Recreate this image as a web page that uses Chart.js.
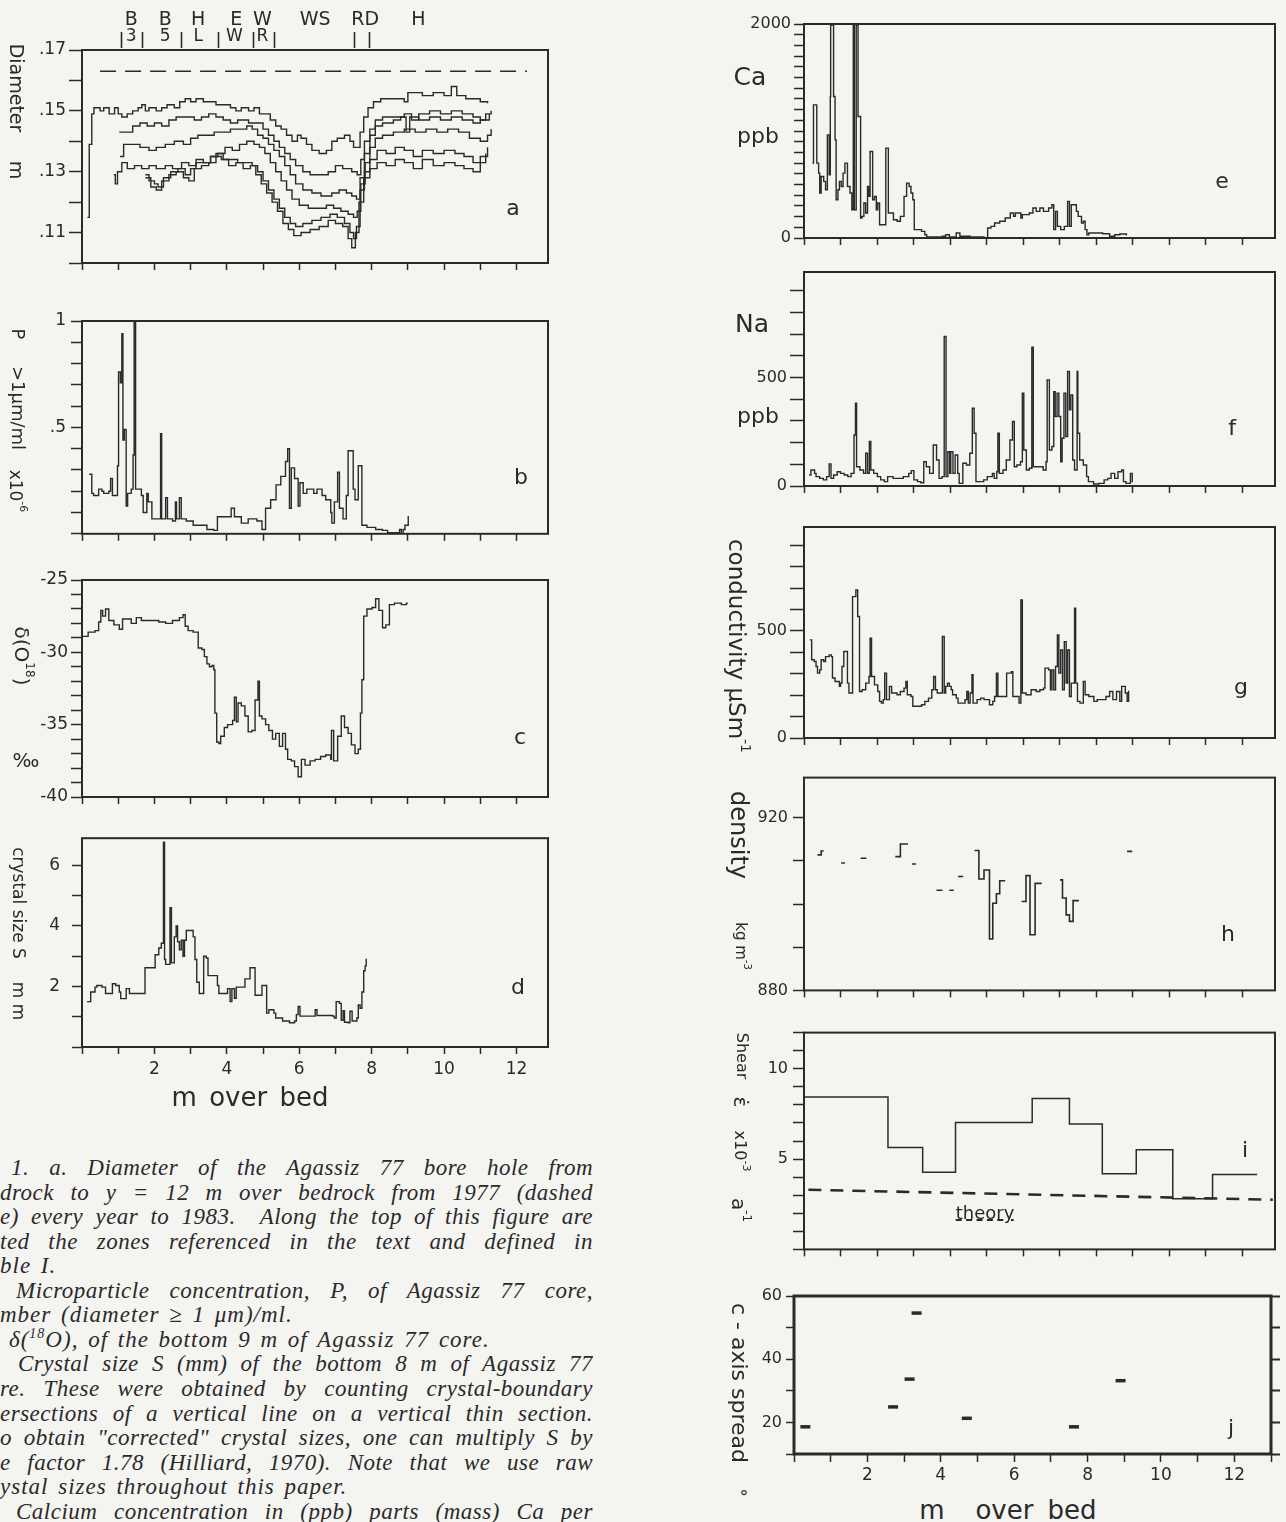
<!DOCTYPE html>
<html>
<head>
<meta charset="utf-8">
<script src="https://cdn.jsdelivr.net/npm/chart.js@4.4.1/dist/chart.umd.min.js"></script>
<style>
  body { margin: 0; background: #f4f4f1; }
  #page { position: relative; width: 1286px; height: 1522px; overflow: hidden; background: #f4f4f1; color: #2a2a2a; font-family: "DejaVu Sans", sans-serif; }
  .box { position: absolute; }
  .lbl { position: absolute; white-space: pre; line-height: 1; transform: translate(-50%, -50%); }
  .vert { writing-mode: vertical-rl; }
  .cap { position: absolute; font-family: "Liberation Serif", serif; font-style: italic; font-size: 23px; line-height: 24px; height: 25px; white-space: nowrap; letter-spacing: 1px; word-spacing: 3px; }
  .cap.just { white-space: normal; overflow: hidden; text-align: justify; text-align-last: justify; letter-spacing: 0.5px; word-spacing: 0; }
</style>
</head>
<body>
<div id="page"></div>
<script>
// ---- depth axis (m over bed) ----
const depthLabels = [2, 4, 6, 8, 10, 12];

// ---- a: bore hole diameter (m), one trace per year ----
const diamTicks = [0.11, 0.13, 0.15, 0.17];
const diam1977 = [[0.5, 0.163], [12.29, 0.163]];
const diamY1 = [[0.15,0.115],[0.20,0.139],[0.27,0.149],[0.33,0.151],[0.50,0.150],[0.60,0.151],[0.75,0.149],[0.90,0.151],[1.00,0.149],[1.10,0.148],[1.25,0.149],[1.40,0.150],[1.55,0.151],[1.65,0.152],[1.75,0.150],[1.85,0.151],[2.05,0.150],[2.20,0.151],[2.35,0.152],[2.55,0.151],[2.70,0.153],[2.85,0.154],[3.00,0.153],[3.15,0.154],[3.35,0.153],[3.70,0.152],[3.90,0.152],[4.10,0.151],[4.25,0.150],[4.40,0.151],[4.60,0.150],[4.75,0.151],[4.90,0.149],[5.20,0.147],[5.35,0.145],[5.50,0.144],[5.65,0.142],[5.80,0.140],[5.95,0.142],[6.05,0.141],[6.20,0.139],[6.35,0.137],[6.55,0.136],[6.75,0.137],[6.90,0.140],[7.05,0.141],[7.25,0.142],[7.40,0.140],[7.50,0.138],[7.62,0.138],[7.68,0.143],[7.78,0.148],[7.90,0.151],[8.05,0.153],[8.25,0.154],[8.50,0.154],[8.90,0.153],[9.00,0.156],[9.40,0.155],[9.70,0.156],[10.00,0.155],[10.20,0.158],[10.35,0.155],[10.60,0.154],[11.00,0.153],[11.20,0.1525]];
const diamY2 = [[1.03,0.143],[1.30,0.143],[1.40,0.145],[1.60,0.146],[1.80,0.145],[2.00,0.146],[2.20,0.145],[2.40,0.147],[2.60,0.148],[2.90,0.148],[3.10,0.147],[3.30,0.148],[3.50,0.149],[3.70,0.148],[3.90,0.147],[4.10,0.146],[4.30,0.147],[4.60,0.146],[4.80,0.146],[5.00,0.144],[5.15,0.142],[5.30,0.140],[5.45,0.138],[5.60,0.136],[5.75,0.134],[5.90,0.132],[6.10,0.130],[6.30,0.129],[6.60,0.129],[6.80,0.130],[7.00,0.132],[7.20,0.131],[7.45,0.130],[7.60,0.129],[7.70,0.134],[7.80,0.140],[7.95,0.144],[8.10,0.147],[8.30,0.148],[8.60,0.148],[8.90,0.149],[9.10,0.147],[9.30,0.149],[9.60,0.150],[9.90,0.149],[10.20,0.150],[10.50,0.149],[10.80,0.148],[11.00,0.147],[11.15,0.149],[11.30,0.150]];
const diamY3 = [[1.05,0.135],[1.15,0.139],[1.40,0.139],[1.60,0.138],[1.85,0.137],[2.05,0.138],[2.30,0.139],[2.55,0.140],[2.80,0.139],[3.00,0.141],[3.20,0.142],[3.45,0.142],[3.65,0.143],[3.90,0.143],[4.10,0.144],[4.35,0.144],[4.55,0.145],[4.70,0.144],[4.85,0.142],[5.00,0.141],[5.15,0.139],[5.30,0.137],[5.45,0.135],[5.60,0.132],[5.75,0.129],[5.90,0.126],[6.10,0.124],[6.35,0.123],[6.60,0.122],[6.90,0.123],[7.10,0.124],[7.30,0.123],[7.45,0.122],[7.58,0.121],[7.68,0.128],[7.80,0.136],[7.95,0.142],[8.10,0.145],[8.30,0.146],[8.60,0.147],[8.80,0.148],[8.95,0.143],[9.05,0.148],[9.30,0.147],[9.60,0.148],[9.90,0.147],[10.20,0.148],[10.50,0.147],[10.80,0.146],[11.00,0.147],[11.25,0.149]];
const diamY4 = [[0.88,0.129],[0.92,0.126],[0.98,0.130],[1.10,0.133],[1.25,0.131],[1.45,0.132],[1.65,0.131],[1.85,0.132],[2.05,0.131],[2.30,0.132],[2.50,0.131],[2.75,0.133],[2.95,0.132],[3.15,0.134],[3.35,0.133],[3.55,0.135],[3.75,0.136],[3.95,0.138],[4.15,0.137],[4.35,0.139],[4.55,0.140],[4.75,0.139],[4.90,0.138],[5.05,0.136],[5.20,0.133],[5.35,0.130],[5.50,0.127],[5.65,0.124],[5.80,0.121],[6.00,0.119],[6.25,0.118],[6.50,0.118],[6.75,0.119],[6.95,0.118],[7.15,0.117],[7.35,0.116],[7.50,0.115],[7.60,0.117],[7.70,0.126],[7.82,0.133],[7.95,0.138],[8.10,0.141],[8.30,0.142],[8.60,0.143],[8.90,0.144],[9.20,0.143],[9.50,0.144],[9.80,0.143],[10.10,0.144],[10.40,0.143],[10.70,0.141],[11.00,0.140],[11.20,0.142],[11.30,0.144]];
const diamY5 = [[1.75,0.129],[1.85,0.127],[2.00,0.126],[2.10,0.125],[2.25,0.128],[2.45,0.130],[2.65,0.131],[2.85,0.129],[3.00,0.131],[3.15,0.133],[3.35,0.133],[3.55,0.135],[3.70,0.136],[3.90,0.134],[4.10,0.134],[4.30,0.133],[4.50,0.133],[4.70,0.132],[4.85,0.130],[5.00,0.127],[5.15,0.124],[5.30,0.121],[5.45,0.118],[5.60,0.115],[5.75,0.113],[5.90,0.112],[6.10,0.113],[6.35,0.114],[6.60,0.115],[6.85,0.116],[7.05,0.115],[7.25,0.113],[7.40,0.110],[7.50,0.108],[7.58,0.112],[7.68,0.124],[7.80,0.130],[7.95,0.134],[8.15,0.137],[8.40,0.136],[8.65,0.138],[8.90,0.137],[9.15,0.135],[9.40,0.137],[9.70,0.136],[10.00,0.137],[10.30,0.136],[10.55,0.135],[10.80,0.133],[11.00,0.135],[11.20,0.138]];
const diamY6 = [[1.75,0.128],[1.90,0.125],[2.05,0.124],[2.20,0.127],[2.40,0.129],[2.60,0.130],[2.80,0.128],[2.95,0.127],[3.10,0.131],[3.30,0.132],[3.50,0.133],[3.70,0.135],[3.85,0.134],[4.05,0.132],[4.25,0.133],[4.45,0.131],[4.65,0.132],[4.80,0.129],[4.95,0.126],[5.10,0.123],[5.25,0.120],[5.40,0.117],[5.55,0.113],[5.70,0.111],[5.85,0.109],[6.05,0.110],[6.30,0.111],[6.55,0.112],[6.80,0.114],[7.00,0.113],[7.20,0.112],[7.35,0.108],[7.45,0.105],[7.55,0.110],[7.65,0.120],[7.78,0.128],[7.95,0.131],[8.15,0.133],[8.40,0.132],[8.65,0.134],[8.90,0.133],[9.15,0.131],[9.40,0.134],[9.70,0.132],[10.00,0.133],[10.30,0.132],[10.55,0.131],[10.80,0.130],[11.00,0.133],[11.15,0.136]];

// zones marked along the top of panel a
const zoneNames = ['B', 'B', 'H', 'E', 'W', 'WS', 'RD', 'H'];
const zoneNameAt = [1.36, 2.30, 3.21, 4.26, 4.98, 6.44, 7.82, 9.29];
const zoneCodes = ['3', '5', 'L', 'W', 'R'];
const zoneCodeAt = [1.36, 2.30, 3.21, 4.21, 4.98];
const zoneBounds = [1.07, 1.66, 2.74, 3.76, 4.71, 5.30, 7.51, 7.92];

// ---- b: microparticles P (x10^-6 per ml) ----
const pTicks = [0.5, 1];
const particles = [[0.20,0.28],[0.27,0.19],[0.32,0.18],[0.46,0.21],[0.55,0.20],[0.60,0.19],[0.74,0.20],[0.79,0.26],[0.84,0.18],[0.98,0.32],[1.01,0.76],[1.06,0.71],[1.10,0.94],[1.13,0.44],[1.17,0.49],[1.22,0.13],[1.26,0.19],[1.36,0.21],[1.41,0.37],[1.44,1.03],[1.48,0.21],[1.55,0.21],[1.64,0.18],[1.69,0.10],[1.79,0.19],[1.83,0.15],[1.93,0.07],[2.12,0.07],[2.17,0.47],[2.20,0.07],[2.31,0.17],[2.36,0.07],[2.50,0.06],[2.58,0.15],[2.61,0.07],[2.69,0.17],[2.74,0.07],[2.88,0.06],[3.07,0.04],[3.45,0.02],[3.64,0.016],[3.74,0.08],[4.02,0.08],[4.12,0.12],[4.21,0.08],[4.40,0.05],[4.59,0.07],[4.83,0.06],[4.97,0.02],[5.07,0.12],[5.21,0.16],[5.36,0.23],[5.49,0.27],[5.62,0.34],[5.68,0.40],[5.73,0.12],[5.78,0.31],[5.87,0.26],[5.97,0.13],[6.02,0.24],[6.11,0.19],[6.21,0.21],[6.40,0.19],[6.49,0.21],[6.63,0.18],[6.73,0.16],[6.87,0.10],[6.90,0.05],[6.97,0.15],[7.06,0.29],[7.11,0.12],[7.21,0.07],[7.30,0.18],[7.35,0.39],[7.49,0.21],[7.54,0.16],[7.63,0.32],[7.73,0.04],[7.87,0.03],[8.11,0.02],[8.30,0.016],[8.44,0.005],[8.68,0.005],[8.77,0.02],[8.82,0.0],[8.87,0.02],[8.92,0.04],[9.01,0.08],[9.03,0.08]];

// ---- c: delta O-18 (per mil) ----
const d18Ticks = [-40, -35, -30, -25];
const delta18 = [[0.00,-28.9],[0.17,-28.6],[0.36,-28.5],[0.46,-27.9],[0.52,-27.1],[0.57,-27.5],[0.65,-27.0],[0.74,-27.8],[0.88,-28.1],[1.03,-28.4],[1.12,-27.7],[1.36,-28.0],[1.50,-27.6],[1.64,-27.8],[1.83,-27.8],[2.12,-27.9],[2.31,-28.0],[2.50,-27.8],[2.69,-27.6],[2.79,-27.4],[2.85,-28.2],[2.93,-28.5],[3.07,-28.6],[3.21,-29.7],[3.31,-29.8],[3.38,-30.3],[3.45,-30.8],[3.52,-31.0],[3.59,-30.9],[3.64,-31.2],[3.67,-34.2],[3.72,-36.2],[3.78,-36.3],[3.83,-35.8],[3.93,-35.2],[4.02,-35.0],[4.16,-34.7],[4.21,-33.1],[4.26,-34.8],[4.31,-33.5],[4.40,-33.7],[4.50,-34.4],[4.59,-35.5],[4.69,-35.4],[4.78,-33.3],[4.86,-32.0],[4.90,-34.4],[4.97,-34.6],[5.07,-35.0],[5.16,-35.4],[5.26,-36.0],[5.35,-35.6],[5.45,-36.5],[5.54,-35.6],[5.62,-36.7],[5.68,-37.4],[5.78,-37.5],[5.87,-37.9],[5.97,-38.6],[6.06,-37.4],[6.16,-37.8],[6.30,-37.5],[6.44,-37.4],[6.59,-37.2],[6.73,-37.1],[6.87,-37.4],[6.89,-35.4],[6.95,-37.5],[7.06,-35.8],[7.16,-34.4],[7.25,-35.2],[7.35,-35.6],[7.44,-36.4],[7.54,-37.0],[7.63,-36.7],[7.69,-34.2],[7.73,-31.9],[7.78,-27.5],[7.87,-27.0],[8.01,-26.9],[8.11,-26.3],[8.20,-27.1],[8.30,-28.3],[8.39,-28.1],[8.49,-26.7],[8.63,-26.6],[8.82,-26.7],[8.96,-26.6],[9.00,-26.6]];

// ---- d: crystal size S (mm) ----
const sizeTicks = [2, 4, 6];
const crystalSize = [[0.14,1.5],[0.22,1.5],[0.24,1.82],[0.36,1.98],[0.41,2.03],[0.55,1.98],[0.65,1.77],[0.79,1.77],[0.84,2.09],[0.93,2.03],[1.03,1.82],[1.07,1.6],[1.22,1.93],[1.31,1.77],[1.55,1.77],[1.74,2.62],[1.93,2.62],[2.02,3.05],[2.12,3.27],[2.19,3.43],[2.25,6.77],[2.28,2.89],[2.31,2.73],[2.40,2.73],[2.43,4.6],[2.47,2.78],[2.55,3.64],[2.60,4.0],[2.64,3.48],[2.69,3.21],[2.74,3.53],[2.79,3.0],[2.83,3.53],[2.88,3.85],[3.02,3.85],[3.07,3.64],[3.12,2.89],[3.17,2.14],[3.24,1.77],[3.31,1.77],[3.36,3.0],[3.43,2.94],[3.48,2.36],[3.74,2.03],[3.78,1.77],[3.93,1.77],[4.02,1.93],[4.09,1.5],[4.14,1.93],[4.21,1.61],[4.26,1.98],[4.45,1.98],[4.50,2.25],[4.64,2.62],[4.76,2.62],[4.78,1.71],[4.95,1.71],[4.97,2.03],[5.05,2.03],[5.10,1.12],[5.16,1.23],[5.30,1.12],[5.35,0.96],[5.54,0.86],[5.73,0.80],[5.87,0.86],[5.92,1.07],[5.97,1.34],[6.02,1.02],[6.40,1.02],[6.44,1.23],[6.49,1.04],[6.92,1.02],[6.97,0.96],[7.02,1.5],[7.11,1.44],[7.16,0.88],[7.21,1.2],[7.25,0.82],[7.35,0.80],[7.40,1.18],[7.46,0.86],[7.59,0.96],[7.63,1.39],[7.68,1.28],[7.73,1.82],[7.78,2.52],[7.82,2.68],[7.85,2.89],[7.87,2.89]];

// ---- e: calcium (ppb) ----
const caTicks = [0, 2000];
const calcium = [[0.23,700],[0.26,1244],[0.33,1244],[0.35,700],[0.40,606],[0.43,420],[0.47,575],[0.54,529],[0.59,451],[0.64,964],[0.69,591],[0.72,1322],[0.73,1990],[0.78,1990],[0.81,1322],[0.85,917],[0.88,358],[0.93,451],[0.97,529],[1.02,482],[1.07,606],[1.12,700],[1.16,700],[1.19,482],[1.26,420],[1.31,264],[1.35,1990],[1.38,264],[1.43,1990],[1.48,1135],[1.52,1135],[1.55,187],[1.59,202],[1.64,327],[1.69,233],[1.74,482],[1.78,389],[1.81,809],[1.86,809],[1.88,358],[1.93,389],[1.98,264],[2.02,327],[2.07,124],[2.21,124],[2.24,840],[2.28,840],[2.31,233],[2.40,233],[2.45,171],[2.55,156],[2.64,202],[2.74,389],[2.81,513],[2.88,482],[2.93,420],[2.98,358],[3.02,78],[3.12,78],[3.22,62],[3.31,31],[3.36,9],[3.60,9],[3.79,16],[3.88,31],[3.98,9],[4.17,47],[4.27,16],[4.55,9],[4.74,9],[4.93,0],[5.03,93],[5.12,109],[5.22,140],[5.36,156],[5.51,187],[5.65,233],[5.74,202],[5.79,233],[5.89,233],[5.94,187],[5.98,218],[6.17,233],[6.27,280],[6.36,249],[6.46,280],[6.56,249],[6.70,280],[6.79,311],[6.84,78],[6.89,249],[6.94,109],[7.03,78],[7.13,109],[7.22,342],[7.27,109],[7.32,311],[7.41,311],[7.46,249],[7.51,202],[7.60,140],[7.65,156],[7.70,78],[7.75,31],[7.80,47],[7.99,47],[8.18,40],[8.37,16],[8.51,31],[8.65,37],[8.83,31],[8.85,31]];

// ---- f: sodium (ppb) ----
const naTicks = [0, 500];
const sodium = [[0.14,51],[0.19,74],[0.29,58],[0.33,43],[0.43,35],[0.53,28],[0.62,43],[0.69,102],[0.74,35],[0.81,51],[0.91,66],[1.00,58],[1.10,51],[1.20,43],[1.29,58],[1.37,235],[1.41,382],[1.44,89],[1.53,74],[1.63,58],[1.69,151],[1.74,58],[1.79,205],[1.83,74],[1.91,58],[2.01,43],[2.10,28],[2.20,20],[2.29,43],[2.44,35],[2.58,35],[2.72,43],[2.87,58],[2.94,71],[3.01,28],[3.11,20],[3.20,15],[3.28,112],[3.35,89],[3.44,58],[3.54,189],[3.63,120],[3.70,35],[3.78,43],[3.84,689],[3.89,43],[3.94,158],[3.99,58],[4.02,158],[4.08,58],[4.14,143],[4.21,58],[4.25,12],[4.35,105],[4.45,97],[4.54,151],[4.61,358],[4.66,243],[4.71,20],[4.83,20],[4.92,28],[5.02,43],[5.16,58],[5.21,35],[5.28,66],[5.31,243],[5.35,58],[5.45,74],[5.54,120],[5.64,212],[5.71,297],[5.76,89],[5.83,97],[5.93,112],[5.98,428],[6.02,166],[6.09,74],[6.17,82],[6.24,640],[6.28,89],[6.45,89],[6.55,74],[6.63,112],[6.66,489],[6.72,166],[6.79,182],[6.84,435],[6.88,320],[6.93,428],[6.98,320],[7.03,112],[7.07,220],[7.12,428],[7.17,228],[7.22,528],[7.27,351],[7.31,420],[7.36,120],[7.41,74],[7.48,528],[7.50,243],[7.55,120],[7.65,97],[7.74,43],[7.79,20],[7.93,9],[8.08,12],[8.22,28],[8.32,35],[8.41,58],[8.51,35],[8.60,66],[8.70,74],[8.75,20],[8.82,12],[8.94,58],[8.99,20],[9.01,20]];

// ---- g: conductivity (uS/m) ----
const condTicks = [0, 500];
const conductivity = [[0.16,458],[0.21,365],[0.28,357],[0.33,334],[0.37,303],[0.43,318],[0.47,365],[0.54,357],[0.59,380],[0.69,388],[0.75,380],[0.78,280],[0.85,264],[0.93,264],[0.97,241],[1.00,256],[1.04,334],[1.09,404],[1.16,404],[1.19,256],[1.23,210],[1.29,210],[1.33,660],[1.38,660],[1.42,691],[1.47,567],[1.52,217],[1.59,225],[1.69,256],[1.78,287],[1.81,466],[1.85,287],[1.93,248],[2.02,217],[2.07,171],[2.12,163],[2.17,179],[2.21,303],[2.26,179],[2.34,241],[2.40,210],[2.55,202],[2.64,217],[2.74,233],[2.79,264],[2.83,202],[2.93,194],[2.98,148],[3.12,148],[3.22,155],[3.31,171],[3.41,186],[3.50,225],[3.55,287],[3.60,225],[3.65,210],[3.79,474],[3.84,210],[3.88,241],[3.93,256],[3.98,241],[4.03,225],[4.07,202],[4.17,186],[4.22,163],[4.36,163],[4.41,179],[4.46,217],[4.50,163],[4.55,210],[4.60,295],[4.63,163],[4.74,179],[4.84,186],[4.93,179],[5.08,155],[5.17,171],[5.22,194],[5.27,303],[5.31,194],[5.51,194],[5.55,303],[5.68,310],[5.72,194],[5.84,194],[5.89,163],[5.94,644],[5.98,210],[6.08,202],[6.22,225],[6.36,217],[6.46,225],[6.56,233],[6.60,326],[6.70,318],[6.75,225],[6.79,318],[6.84,225],[6.89,334],[6.94,481],[6.98,303],[7.03,411],[7.08,225],[7.13,450],[7.18,256],[7.22,411],[7.27,194],[7.32,256],[7.41,606],[7.44,256],[7.49,171],[7.56,163],[7.65,264],[7.70,202],[7.80,194],[7.94,171],[8.03,179],[8.18,179],[8.27,194],[8.37,217],[8.46,179],[8.56,217],[8.65,171],[8.70,241],[8.80,210],[8.85,171],[8.89,217],[8.91,217]];

// ---- h: density (kg m^-3), null marks a gap between sampled sections ----
const densTicks = [880, 920];
const density = [[0.37,911.4],[0.47,912.3],[0.54,912.3],[0.7,null],[1.02,909.5],[1.12,909.5],[1.3,null],[1.55,910.6],[1.71,910.6],[2.0,null],[2.50,911.0],[2.64,913.9],[2.85,913.9],[2.9,null],[2.96,909.3],[3.07,909.3],[3.3,null],[3.63,903.2],[3.79,903.2],[3.9,null],[3.98,903.2],[4.10,903.2],[4.15,null],[4.22,906.4],[4.36,906.4],[4.5,null],[4.67,912.4],[4.79,905.8],[4.93,907.9],[5.08,891.9],[5.17,900.2],[5.27,902.4],[5.36,905.4],[5.51,905.4],[5.7,null],[5.96,900.6],[6.08,906.6],[6.19,892.9],[6.33,904.8],[6.51,904.8],[6.8,null],[7.01,905.6],[7.08,901.4],[7.18,897.5],[7.27,896.0],[7.37,900.8],[7.53,900.8],[8.0,null],[8.85,912.2],[8.99,912.2]];

// ---- i: shear strain rate (x10^-3 a^-1) ----
const shearTicks = [5, 10];
const shearRate = [[0,8.44],[2.30,5.64],[3.25,4.27],[4.15,7.03],[6.25,8.35],[7.27,6.94],[8.17,4.19],[9.10,5.51],[10.10,2.8],[11.19,4.14],[12.41,4.14]];
const shearTheory = [[0.12,3.30],[12.84,2.75]];

// ---- j: c-axis spread (degrees) ----
const spreadTicks = [20, 40, 60];
const caxisSpread = [[0.31,18.6],[2.70,24.9],[3.15,33.7],[3.34,54.6],[4.71,21.3],[7.63,18.6],[8.90,33.2]];

const ink = '#2a2a2a';
Chart.defaults.font.family = '"DejaVu Sans", sans-serif';
Chart.defaults.color = ink;

const pts = arr => arr.map(([x, y]) => ({ x, y }));
const dot = v => String(v).replace(/^0\./, '.');
const pick = (list, fmt) => v => {
  const hit = list.find(t => Math.abs(t - v) < 1e-6);
  return hit === undefined ? '' : fmt(hit);
};
// each reading holds until the next depth, so step horizontally first
const trace = (arr, extra) => Object.assign({
  data: pts(arr), borderColor: ink, borderWidth: 1.4, pointRadius: 0,
  stepped: 'before', fill: false, spanGaps: false
}, extra || {});

// box around the plot area
const framePlugin = {
  id: 'frame',
  afterDraw(chart, args, opts) {
    const a = chart.chartArea, c = chart.ctx;
    c.save();
    c.strokeStyle = ink;
    c.lineWidth = opts.width || 2;
    c.strokeRect(a.left, a.top, a.right - a.left, a.bottom - a.top);
    c.restore();
  }
};
Chart.register(framePlugin);

// zone letters and boundary bars above panel a
const zonePlugin = {
  id: 'zones',
  afterDraw(chart) {
    const c = chart.ctx, xs = chart.scales.x, top = chart.chartArea.top;
    c.save();
    c.fillStyle = ink; c.strokeStyle = ink; c.lineWidth = 1.6;
    c.font = '19px "DejaVu Sans"'; c.textAlign = 'center'; c.textBaseline = 'middle';
    zoneNames.forEach((t, i) => c.fillText(t, xs.getPixelForValue(zoneNameAt[i]), top - 30));
    c.font = '17px "DejaVu Sans"';
    zoneCodes.forEach((t, i) => c.fillText(t, xs.getPixelForValue(zoneCodeAt[i]), top - 13));
    zoneBounds.forEach(v => {
      const px = Math.round(xs.getPixelForValue(v)) + 0.5;
      c.beginPath(); c.moveTo(px, top - 18); c.lineTo(px, top - 2); c.stroke();
    });
    c.restore();
  }
};

const page = document.getElementById('page');

function makePanel(p) {
  const div = document.createElement('div');
  div.className = 'box';
  div.style.left = (p.left - p.padL) + 'px';
  div.style.top = (p.top - p.padT) + 'px';
  div.style.width = (p.width + p.padL + p.padR) + 'px';
  div.style.height = (p.height + p.padT + p.padB) + 'px';
  const cv = document.createElement('canvas');
  div.appendChild(cv);
  page.appendChild(div);

  const scales = {
    x: {
      type: 'linear', min: 0, max: p.xMax,
      afterFit(s) { s.height = p.padB; },
      ticks: {
        stepSize: 1, autoSkip: false, includeBounds: false, maxRotation: 0,
        padding: p.xPad || 4, font: { size: 17 }, color: ink,
        callback: p.xLabels ? pick(p.xLabels, String) : () => ''
      },
      grid: { drawOnChartArea: false, tickLength: p.xTick || 7, tickWidth: 1.5, tickColor: ink },
      border: { display: false }
    },
    y: {
      type: 'linear', position: 'left', min: p.yMin, max: p.yMax,
      afterFit(s) { s.width = p.padL; },
      ticks: {
        stepSize: p.yStep, autoSkip: false, includeBounds: false,
        padding: p.yPad || 3, font: { size: p.yFont || 17 }, color: ink,
        callback: pick(p.yLabels, p.yFmt || String)
      },
      grid: { drawOnChartArea: false, tickLength: p.yTick || 12, tickWidth: 1.5, tickColor: ink },
      border: { display: false }
    }
  };
  if (p.rightTicks) {
    scales.y2 = {
      type: 'linear', position: 'right', min: p.yMin, max: p.yMax,
      afterFit(s) { s.width = p.padR; },
      ticks: { stepSize: p.yStep, display: false },
      grid: { drawOnChartArea: false, tickLength: 9, tickWidth: 2, tickColor: ink },
      border: { display: false }
    };
  }

  return new Chart(cv, {
    type: p.type || 'line',
    data: { datasets: p.datasets },
    options: {
      responsive: true, maintainAspectRatio: false, animation: false,
      layout: { padding: { top: p.padT, right: p.rightTicks ? 0 : p.padR, left: 0, bottom: 0 } },
      plugins: { legend: { display: false }, tooltip: { enabled: false }, frame: { width: p.frameWidth || 2 } },
      scales
    },
    plugins: p.plugins || []
  });
}

// left column
const leftCol = { left: 82, width: 466, padL: 82, padR: 14, xMax: 12.87 };

makePanel(Object.assign({}, leftCol, {
  top: 50, height: 213, padT: 46, padB: 14,
  yMin: 0.10, yMax: 0.17, yStep: 0.01, yLabels: diamTicks, yFmt: dot, yTick: 13,
  plugins: [zonePlugin],
  datasets: [
    trace(diam1977, { stepped: false, borderDash: [16, 9], borderWidth: 1.5 }),
    trace(diamY1), trace(diamY2), trace(diamY3), trace(diamY4), trace(diamY5), trace(diamY6)
  ]
}));

makePanel(Object.assign({}, leftCol, {
  top: 321, height: 214, padT: 16, padB: 14,
  yMin: 0, yMax: 1, yStep: 0.1, yLabels: pTicks, yFmt: dot, yTick: 11, yPad: 5,
  datasets: [trace(particles)]
}));

makePanel(Object.assign({}, leftCol, {
  top: 580, height: 217, padT: 16, padB: 14,
  yMin: -40, yMax: -25, yStep: 1, yLabels: d18Ticks, yTick: 11,
  datasets: [trace(delta18)]
}));

makePanel(Object.assign({}, leftCol, {
  top: 832, height: 215, padT: 16, padB: 36,
  yMin: 0, yMax: 6.9, yStep: 1, yLabels: sizeTicks, yTick: 10, yPad: 12,
  xLabels: depthLabels, xPad: 5,
  datasets: [trace(crystalSize)]
}));

// right column
const rightCol = { left: 804, width: 471, padL: 74, padR: 10, xMax: 12.9, yFont: 16, yTick: 11 };

makePanel(Object.assign({}, rightCol, {
  top: 24, height: 214, padT: 14, padB: 14,
  yMin: 0, yMax: 2000, yStep: 100, yLabels: caTicks, yTick: 10,
  datasets: [trace(calcium)]
}));

makePanel(Object.assign({}, rightCol, {
  top: 272, height: 214, padT: 14, padB: 14,
  yMin: 0, yMax: 986, yStep: 100, yLabels: naTicks, yTick: 14,
  datasets: [trace(sodium)]
}));

makePanel(Object.assign({}, rightCol, {
  top: 527, height: 211, padT: 14, padB: 14,
  yMin: 0, yMax: 985, yStep: 100, yLabels: condTicks, yTick: 14,
  datasets: [trace(conductivity)]
}));

makePanel(Object.assign({}, rightCol, {
  top: 777, height: 214, padT: 14, padB: 14,
  yMin: 880, yMax: 929.3, yStep: 10, yLabels: densTicks, yPad: 5,
  datasets: [trace(density, { borderWidth: 1.6 })]
}));

makePanel(Object.assign({}, rightCol, {
  top: 1032, height: 218, padT: 14, padB: 14,
  yMin: 0, yMax: 12, yStep: 1, yLabels: shearTicks, yPad: 5,
  datasets: [
    trace(shearRate, { borderWidth: 1.5 }),
    trace(shearTheory, { stepped: false, borderDash: [13, 9], borderWidth: 2.6 })
  ]
}));

makePanel({
  left: 794, top: 1296, width: 477, height: 158, padL: 64, padT: 14, padR: 12, padB: 36,
  xMax: 13.0, yMin: 10, yMax: 60, yStep: 10, yLabels: spreadTicks, yFont: 16, yTick: 8, yPad: 4,
  xLabels: depthLabels, xTick: 8, xPad: 3, rightTicks: true, frameWidth: 3,
  type: 'scatter',
  datasets: [{
    data: pts(caxisSpread), showLine: false, pointStyle: 'line',
    pointRadius: 5, pointBorderWidth: 3.5, borderColor: ink, backgroundColor: ink
  }]
});

// text: axis titles, panel letters, caption
function addText(txt, x, y, size, extra) {
  const d = document.createElement('div');
  d.className = 'lbl' + (extra && extra.vert ? ' vert' : '');
  d.style.left = x + 'px';
  d.style.top = y + 'px';
  d.style.fontSize = size + 'px';
  if (extra && extra.css) d.style.cssText += extra.css;
  d.innerHTML = txt;
  page.appendChild(d);
}
const V = { vert: true };

addText('Diameter', 16, 88, 19, V);
addText('m', 16, 170, 19, V);
addText('P', 18, 334, 18, V);
addText('&gt;1μm/ml', 18, 408, 18, V);
addText('x10<sup style="font-size:11px">-6</sup>', 18, 491, 17, V);
addText('δ(O<sup style="font-size:12px">18</sup>)', 24, 656, 20, V);
addText('‰', 26, 760, 20, V);
addText('crystal size S', 18, 903, 17, V);
addText('m m', 18, 1001, 17, V);
addText('m over bed', 250, 1097, 26, { css: 'word-spacing:4px;' });

addText('Ca', 750, 76, 25);
addText('ppb', 758, 136, 22);
addText('Na', 752, 323, 25);
addText('ppb', 758, 416, 22);
addText('conductivity μSm<sup style="font-size:14px">-1</sup>', 739, 646, 23, V);
addText('density', 739, 835, 24, V);
addText('kg m<sup style="font-size:10px">-3</sup>', 742, 946, 15, V);
addText('Shear', 742, 1056, 16, V);
addText('ε̇', 741, 1102, 20, V);
addText('x10<sup style="font-size:11px">-3</sup>', 742, 1151, 16, V);
addText('a<sup style="font-size:12px">-1</sup>', 741, 1210, 20, V);
addText('c - axis spread', 739, 1383, 22, V);
addText('°', 744, 1497, 18);
addText('m', 932, 1510, 26);
addText('over bed', 1036, 1510, 26, { css: 'word-spacing:6px;' });
addText('theory', 985, 1213, 18, { css: 'text-decoration:underline dashed;' });

[['a', 513, 208], ['b', 521, 477], ['c', 520, 737], ['d', 518, 987],
 ['e', 1222, 181], ['f', 1232, 428], ['g', 1241, 687], ['h', 1228, 934],
 ['i', 1245, 1150], ['j', 1231, 1428]].forEach(([t, x, y]) => addText(t, x, y, 22));

const caption = [
  [11, true, '1. a. Diameter of the Agassiz 77 bore hole from'],
  [0, true, 'drock to y = 12 m over bedrock from 1977 (dashed'],
  [0, true, 'e) every year to 1983.&nbsp; Along the top of this figure are'],
  [0, true, 'ted the zones referenced in the text and defined in'],
  [0, false, 'ble I.'],
  [16, true, 'Microparticle concentration, P, of Agassiz 77 core,'],
  [0, false, 'mber (diameter ≥ 1 μm)/ml.'],
  [9, false, 'δ(<sup style="font-size:14px;line-height:0">18</sup>O), of the bottom 9 m of Agassiz 77 core.'],
  [18, true, 'Crystal size S (mm) of the bottom 8 m of Agassiz 77'],
  [0, true, 're. These were obtained by counting crystal-boundary'],
  [0, true, 'ersections of a vertical line on a vertical thin section.'],
  [0, true, 'o obtain "corrected" crystal sizes, one can multiply S by'],
  [0, true, 'e factor 1.78 (Hilliard, 1970). Note that we use raw'],
  [0, false, 'ystal sizes throughout this paper.'],
  [16, true, 'Calcium concentration in (ppb) parts (mass) Ca per']
];
caption.forEach(([x, just, txt], i) => {
  const d = document.createElement('div');
  d.className = 'cap' + (just ? ' just' : '');
  d.style.left = x + 'px';
  d.style.top = (1156 + i * 24.55) + 'px';
  if (just) d.style.width = (593 - x) + 'px';
  d.innerHTML = txt;
  page.appendChild(d);
});
</script>
</body>
</html>
